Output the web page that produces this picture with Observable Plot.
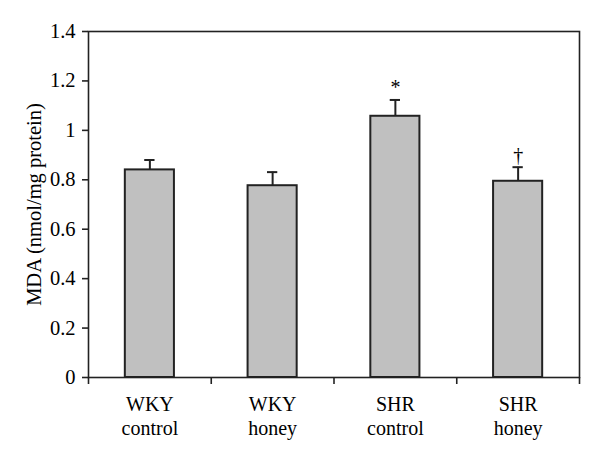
<!DOCTYPE html>
<html>
<head>
<meta charset="utf-8">
<script src="https://cdn.jsdelivr.net/npm/d3@7"></script>
<script src="https://cdn.jsdelivr.net/npm/@observablehq/plot@0.6"></script>
<style>
  html, body { margin: 0; padding: 0; background: #fff; }
  #chart svg { display: block; font-family: "Liberation Serif", "DejaVu Serif", serif !important; }
  #chart svg text, #chart svg g { font-family: "Liberation Serif", "DejaVu Serif", serif !important; }
  #chart svg text { fill: #000; }
  #chart svg g[aria-label="y-axis tick label"] text { font-size: 20.5px !important; }
</style>
</head>
<body>
<div id="chart"></div>
<script>
// Data
const categories = ["WKY\ncontrol", "WKY\nhoney", "SHR\ncontrol", "SHR\nhoney"];
const means = [0.84, 0.776, 1.057, 0.794];
const errors = [0.04, 0.055, 0.066, 0.057];
const marks = ["", "", "*", "†"];
const yTicks = [0, 0.2, 0.4, 0.6, 0.8, 1, 1.2, 1.4];
const yLabel = "MDA (nmol/mg protein)";

const data = categories.map((c, i) => ({
  i, label: c, mean: means[i], err: errors[i], top: means[i] + errors[i], mark: marks[i]
}));
const bounds = d3.range(categories.length + 1);

const halfBar = 0.2, halfCap = 0.042;

const chart = Plot.plot({
  width: 600,
  height: 457,
  marginLeft: 88,
  marginRight: 21,
  marginTop: 31,
  marginBottom: 80,
  style: { background: "#fff", fontSize: "19px" },
  x: { domain: [0, categories.length], axis: null },
  y: { domain: [0, 1.4], axis: null },
  marks: [
    Plot.rectY(data, {
      x1: d => d.i + 0.5 - halfBar, x2: d => d.i + 0.5 + halfBar,
      y1: 0, y2: "mean", fill: "#c0c0c0", stroke: "#222", strokeWidth: 2
    }),
    Plot.ruleX(data, { x: d => d.i + 0.5, y1: "mean", y2: "top", stroke: "#222", strokeWidth: 2 }),
    Plot.ruleY(data, { y: "top", x1: d => d.i + 0.5 - halfCap, x2: d => d.i + 0.5 + halfCap, stroke: "#222", strokeWidth: 2 }),
    Plot.text(data, { x: d => d.i + 0.5, y: "top", text: "mark", dy: -12, fontSize: 20 }),
    Plot.frame({ stroke: "#222", strokeWidth: 1.6 }),
    Plot.axisY({ ticks: yTicks, tickSize: 6, tickPadding: 7, fontSize: 20.5, tickFormat: d => String(+d.toFixed(1)), label: null, stroke: "#222", strokeWidth: 1.6 }),
    Plot.axisX({ ticks: bounds, tickSize: 7, tickFormat: () => "", label: null, stroke: "#222", strokeWidth: 1.6 }),
    Plot.text(data, { x: d => d.i + 0.5, frameAnchor: "bottom", dy: 17, lineAnchor: "top", lineHeight: 1.17, text: "label", fontSize: 20 }),
    Plot.text([yLabel], { frameAnchor: "left", textAnchor: "middle", dx: -54, rotate: -90, text: d => d, fontSize: 20.5 })
  ]
});
document.getElementById("chart").appendChild(chart);
</script>
</body>
</html>
